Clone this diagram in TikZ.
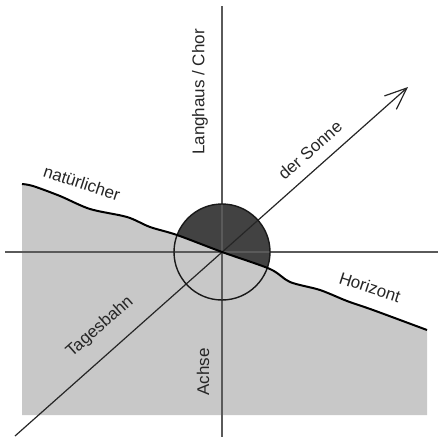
\documentclass[tikz,border=0pt]{standalone}
\usepackage{fontspec}
\setmainfont{Liberation Sans}
\usetikzlibrary{arrows.meta}
\definecolor{clrGround}{RGB}{200,200,200}
\definecolor{clrSun}{RGB}{66,66,66}
\definecolor{clrAxis}{RGB}{90,90,90}
\tikzset{
  axisline/.style={draw=clrAxis, line width=1.6pt},
  pathline/.style={draw=black!85, line width=1.2pt},
  horizonline/.style={draw=black, line width=2pt, line join=round},
  sundisk/.style={draw=black!90, line width=1.4pt},
  lbl/.style={font=\fontsize{17}{20}\selectfont, text=black!85, inner sep=0pt}
}
\newcommand{\horizonplot}{plot[smooth, tension=0.5] coordinates {(22,184) (33,186) (60,196) (90,209) (127,217) (150,227) (177,235) (222,252) (270,269) (290,282) (320,290) (347,301) (373,310) (427,330)}}

\begin{document}
\begin{tikzpicture}[x=1pt, y=-1pt]
\useasboundingbox (0,0) rectangle (438,437);

\coordinate (c) at (222,252);
\coordinate (vtop) at (222,6);
\coordinate (vbot) at (222,437);
\coordinate (hleft) at (5,252);
\coordinate (hright) at (438,252);
\coordinate (dstart) at (15,436);
\coordinate (dtip) at (408,87);

% sun disk, lower half covered by the ground
\fill[clrSun] (c) circle (48);
\fill[clrGround] \horizonplot -- (427,415) -- (22,415) -- cycle;

\draw[axisline] (hleft) -- (hright);
\draw[axisline] (vtop) -- (vbot);
\draw[pathline, -{Straight Barb[length=22pt, width=18pt]}] (dstart) -- (dtip);
\draw[sundisk] (c) circle (48);
\draw[horizonline] \horizonplot;

\node[lbl, rotate=90] (chor) at (200,92) {Langhaus / Chor};
\node[lbl, rotate=90] (achse) at (203,372) {Achse};
\node[lbl, rotate=-18] (natur) at (82,183) {natürlicher};
\node[lbl, rotate=-18] (horiz) at (370,287) {Horizont};
\node[lbl, rotate=41.5] (tages) at (100,327) {Tagesbahn};
\node[lbl, rotate=41.5] (sonne) at (310,150) {der Sonne};

\end{tikzpicture}
\end{document}
